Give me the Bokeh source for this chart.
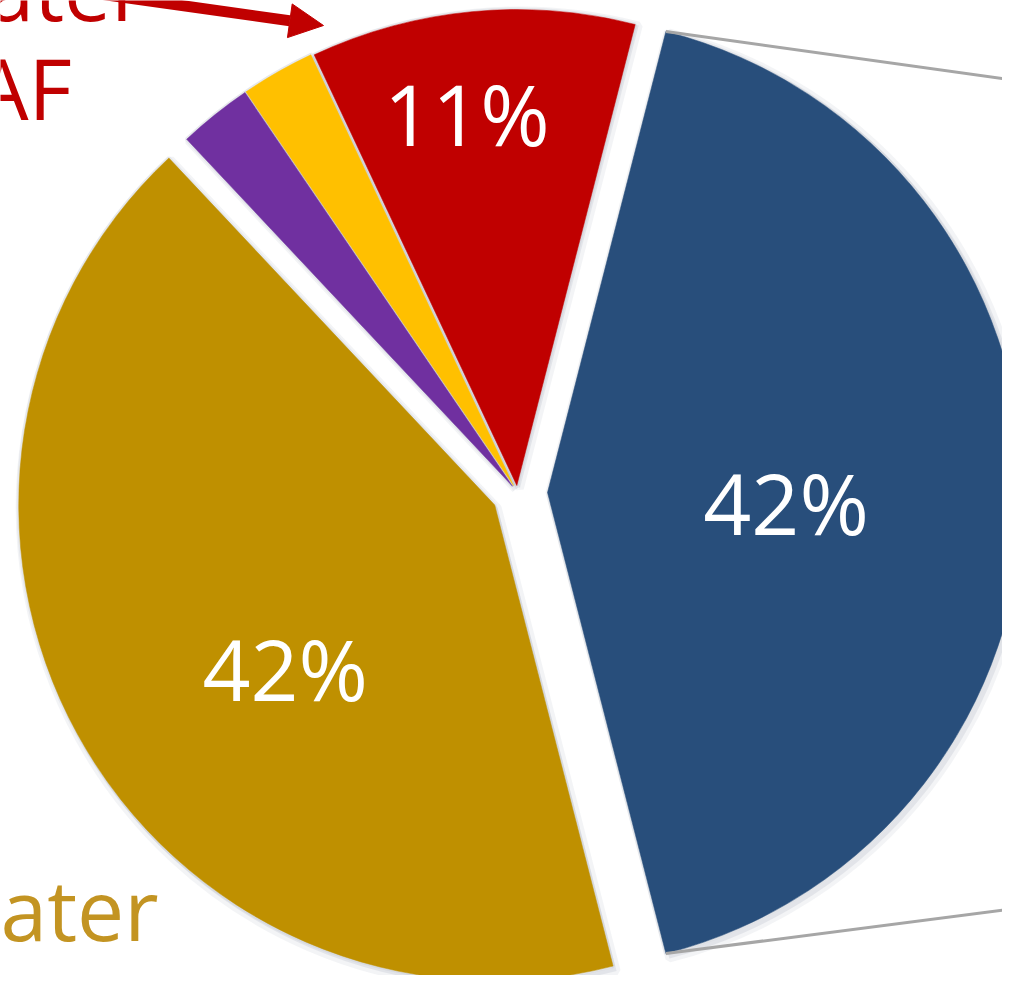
import math
from bokeh.plotting import figure
from bokeh.models import Arrow, NormalHead, ColumnDataSource
from bokeh.core.properties import value
from bokeh.embed import file_html
from bokeh.resources import INLINE

# ---------------- data ----------------
categories = ["Slice A", "Slice B", "Slice C", "Slice D", "Slice E"]
shares = [42, 11, 2.5, 2.5, 42]           # percent
pct_labels = ["42%", "11%", "", "", "42%"]
colors = ["#284E7B", "#C00000", "#FFC000", "#7030A0", "#BF9000"]

# ---------------- layout constants ----------------
W, H = 1002, 975
IMG_H = 991
def sy(y_screen):            # screen y (reference pixels) -> data y
    return IMG_H - y_screen

CX, CY = 517, sy(492)        # nominal pie centre
R = 476                      # pie radius
explode = [30, 7, 8, 8, 26]  # explosion distance per slice
label_r = [238.8, 375.5, 0, 0, 265.5]
label_da = [-2.4, 2.25, 0, 0, 9.1]   # angular tweak of label position (deg)
FONT = "Open Sans"
FS = "84px"
BASE_OFF = 34                # 'middle' anchor sits this far above the baseline

p = figure(width=W, height=H, x_range=(0, W), y_range=(IMG_H - H, IMG_H),
           output_backend="svg", toolbar_location=None, min_border=0)
p.axis.visible = False
p.grid.visible = False
p.outline_line_color = None
p.background_fill_color = "white"
p.border_fill_color = "white"

total = sum(shares)
start = -shares[0] / total * math.pi   # first slice centred on 0 rad
xs, ys, sa, ea, mids = [], [], [], [], []
a = start
for v, d in zip(shares, explode):
    span = v / total * 2 * math.pi
    m = a + span / 2
    xs.append(CX + d * math.cos(m))
    ys.append(CY + d * math.sin(m))
    sa.append(a)
    ea.append(a + span)
    mids.append(m)
    a += span

src = ColumnDataSource(dict(x=xs, y=ys, sa=sa, ea=ea, color=colors,
                            sx=[x + 3 for x in xs], sy=[y - 3 for y in ys]))

# soft shadows
p.wedge(x="sx", y="sy", radius=R + 2, start_angle="sa", end_angle="ea",
        fill_color="#8c93a8", fill_alpha=0.16, line_color="#8c93a8",
        line_alpha=0.10, line_width=8, source=src)
p.wedge(x="x", y="y", radius=R, start_angle="sa", end_angle="ea",
        fill_color="#8c93a8", fill_alpha=0.0, line_color="#8c93a8",
        line_alpha=0.12, line_width=4, source=src)
# slices
p.wedge(x="x", y="y", radius=R, start_angle="sa", end_angle="ea",
        fill_color="color", line_color="color", line_width=0.5, source=src)

# percentage labels
lx, ly, lt = [], [], []
for i, t in enumerate(pct_labels):
    if not t:
        continue
    ang = mids[i] + math.radians(label_da[i])
    lx.append(xs[i] + label_r[i] * math.cos(ang))
    ly.append(ys[i] + label_r[i] * math.sin(ang))
    lt.append(t)
p.text(x=lx, y=ly, text=lt, text_color="white", text_font=value(FONT),
       text_font_size=FS, text_align="center", text_baseline="middle")

# connector lines from the blue slice to the (off-page) secondary chart
b_top = (xs[0] + R * math.cos(ea[0]), ys[0] + R * math.sin(ea[0]))
b_bot = (xs[0] + R * math.cos(sa[0]), ys[0] + R * math.sin(sa[0]))
conn_end_top = (1030, sy(82))
conn_end_bot = (1030, sy(906))
p.segment(x0=[b_top[0], b_bot[0]], y0=[b_top[1], b_bot[1]],
          x1=[conn_end_top[0], conn_end_bot[0]],
          y1=[conn_end_top[1], conn_end_bot[1]],
          line_color="#A6A6A6", line_width=3)

# side texts (cropped at the page edge, as in the reference)
p.text(x=[-13, -25], y=[sy(22 - BASE_OFF), sy(121 - BASE_OFF)],
       text=["ater", "AF"], text_color="#C00000", text_font=value(FONT),
       text_font_size=FS, text_align="left", text_baseline="middle")
p.text(x=[0, -12], y=[sy(942 - BASE_OFF), sy(1042 - BASE_OFF)],
       text=["ater", "AF"], text_color="#C39422", text_font=value(FONT),
       text_font_size=FS, text_align="left", text_baseline="middle")

# red arrow pointing at the 11% slice
p.add_layout(Arrow(end=NormalHead(size=34, fill_color="#C00000",
                                  line_color="#C00000"),
                   x_start=60, y_start=sy(-12), x_end=323, y_end=sy(25),
                   line_color="#C00000", line_width=11))

open("out.html", "w").write(file_html(p, INLINE))
